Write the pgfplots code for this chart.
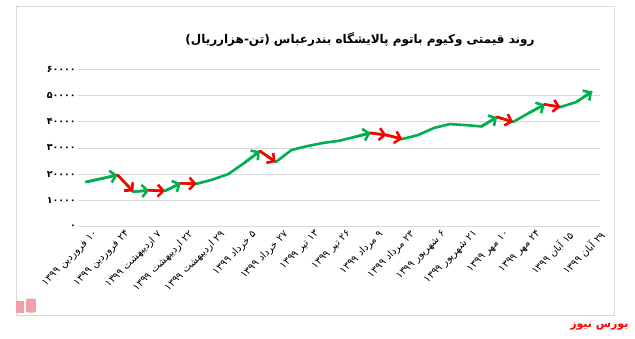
\documentclass[border=0pt]{standalone}
\usepackage{fontspec}
\usepackage{pgfplots}
\pgfplotsset{compat=1.18}
\usetikzlibrary{arrows.meta}
\TeXXeTstate=1
\newfontfamily\arabicfont[Script=Arabic]{DejaVu Sans}
\definecolor{lgreen}{HTML}{00B050}
\definecolor{lred}{HTML}{FF0000}
\definecolor{gridc}{HTML}{D9D9D9}
\definecolor{logopink}{HTML}{F2A0A8}
\pgfplotstableread{
x y
0 17000
1 18300
2 19650
3 13300
4 13800
5 13600
6 16500
7 16300
8 17900
9 20000
10 24200
11 28800
12 24600
13 29200
14 30700
15 31900
16 32700
17 34200
18 35700
19 34900
20 33400
21 34900
22 37600
23 39100
24 38700
25 38200
26 41800
27 39900
28 43300
29 46600
30 45600
31 47500
32 51500
}\pricedata
\tikzset{arr/.style={line width=2.6pt, line cap=round, -{Straight Barb[length=5.5pt,width=12pt]}}}
\begin{document}
\begin{tikzpicture}[x=1pt,y=1pt]
\path[use as bounding box] (-78,-111.5) rectangle (557,226.5);
\draw[gridc, line width=0.75pt] (-62,-89) rectangle (536,220);
\begin{axis}[
  at={(0,0)}, anchor=south west,
  scale only axis, width=522pt, height=157.2pt,
  xmin=-0.5, xmax=32.5, ymin=0, ymax=60000,
  axis line style={draw=none},
  major tick length=0pt,
  ytick={0,10000,...,60000},
  yticklabels={۰,۱۰۰۰۰,۲۰۰۰۰,۳۰۰۰۰,۴۰۰۰۰,۵۰۰۰۰,۶۰۰۰۰},
  ymajorgrids, grid style={gridc, line width=0.75pt},
  scaled y ticks=false,
  xtick={0,2,...,32},
  xticklabels={
    {\beginR ۱۰ فروردین ۱۳۹۹\endR},
    {\beginR ۲۴ فروردین ۱۳۹۹\endR},
    {\beginR ۷ اردیبهشت ۱۳۹۹\endR},
    {\beginR ۲۲ اردیبهشت ۱۳۹۹\endR},
    {\beginR ۲۹ اردیبهشت ۱۳۹۹\endR},
    {\beginR ۵ خرداد ۱۳۹۹\endR},
    {\beginR ۲۷ خرداد ۱۳۹۹\endR},
    {\beginR ۱۳ تیر ۱۳۹۹\endR},
    {\beginR ۲۶ تیر ۱۳۹۹\endR},
    {\beginR ۹ مرداد ۱۳۹۹\endR},
    {\beginR ۲۳ مرداد ۱۳۹۹\endR},
    {\beginR ۶ شهریور ۱۳۹۹\endR},
    {\beginR ۲۱ شهریور ۱۳۹۹\endR},
    {\beginR ۱۰ مهر ۱۳۹۹\endR},
    {\beginR ۲۴ مهر ۱۳۹۹\endR},
    {\beginR ۱۵ آبان ۱۳۹۹\endR},
    {\beginR ۲۹ آبان ۱۳۹۹\endR}},
  xticklabel style={rotate=45, anchor=north east, inner sep=1pt, yshift=-6pt, xshift=4pt, font=\arabicfont\fontsize{10}{11}\selectfont},
  yticklabel style={font=\arabicfont\bfseries\fontsize{9.5}{10}\selectfont, inner sep=2pt},
]
\addplot[lgreen, line width=2.6pt, line join=round, no markers] table[x=x,y=y] {\pricedata};
% arrows
\addplot[lgreen, arr] coordinates {(0,17000)(1,18300)(2,19650)};
\addplot[lred, arr] coordinates {(2,19650)(3,13300)};
\addplot[lgreen, arr] coordinates {(3,13300)(4,13800)};
\addplot[lred, arr] coordinates {(4,13800)(5,13600)};
\addplot[lgreen, arr] coordinates {(5,13600)(6,16500)};
\addplot[lred, arr] coordinates {(6,16500)(7,16300)};
\addplot[lgreen, arr] coordinates {(10,24200)(11,28800)};
\addplot[lred, arr] coordinates {(11,28800)(12,24600)};
\addplot[lgreen, arr] coordinates {(17,34200)(18,35700)};
\addplot[lred, arr] coordinates {(18,35700)(19,34900)};
\addplot[lred, arr] coordinates {(19,34900)(20,33400)};
\addplot[lgreen, arr] coordinates {(25,38200)(26,41800)};
\addplot[lred, arr] coordinates {(26,41800)(27,39900)};
\addplot[lgreen, arr] coordinates {(28,43300)(29,46600)};
\addplot[lred, arr] coordinates {(29,46600)(30,45600)};
\addplot[lgreen, arr] coordinates {(31,47500)(32,51500)};
\end{axis}
\node[font=\arabicfont\bfseries\fontsize{12}{14}\selectfont] at (282,186.5)
  {\beginR روند قیمتی وکیوم باتوم پالایشگاه بندرعباس (تن-هزارریال)\endR};
\node[anchor=east, text=lred, font=\arabicfont\bfseries\fontsize{11}{13}\selectfont] at (554,-100)
  {\beginR بورس نیوز\endR};
\fill[logopink] (-54,-86) rectangle (-62,-74);
\fill[logopink, rounded corners=2pt] (-52,-86) rectangle (-42,-72);
\end{tikzpicture}
\end{document}
